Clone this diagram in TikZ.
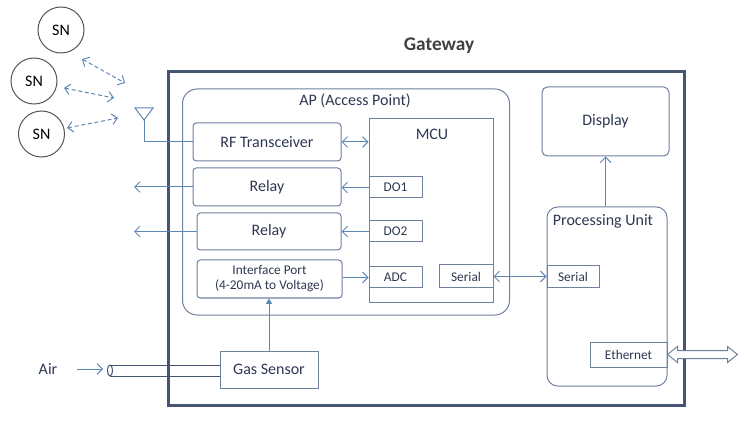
\documentclass[tikz,border=0pt]{standalone}
\usepackage{fontspec}
\setmainfont{Carlito}
\usetikzlibrary{arrows.meta}
\definecolor{framecol}{RGB}{70,85,115}
\definecolor{boxcol}{RGB}{110,128,158}
\definecolor{arrcol}{RGB}{95,135,180}
\definecolor{txtcol}{RGB}{45,55,80}
\definecolor{titlecol}{RGB}{64,64,64}
\definecolor{sncol}{RGB}{85,85,85}

\tikzset{
  blockbox/.style={draw=boxcol,line width=0.75pt,rounded corners=2.5pt,inner sep=0pt},
  portbox/.style={draw=boxcol,line width=0.75pt,inner sep=0pt,font=\fontsize{10}{12}\selectfont},
  snnode/.style={draw=sncol,line width=0.75pt,circle,minimum size=34.5pt,inner sep=0pt,text=black},
  linkline/.style={draw=arrcol,line width=0.75pt},
  arrowline/.style={linkline,-{Straight Barb[length=4pt,width=8pt]}},
  dblarrow/.style={linkline,{Straight Barb[length=4pt,width=8pt]}-{Straight Barb[length=4pt,width=8pt]}},
  radiolink/.style={dblarrow,dash pattern=on 3pt off 2pt}
}

\begin{document}
\begin{tikzpicture}[x=0.75pt,y=-0.75pt,every node/.style={text=txtcol,font=\fontsize{12}{14}\selectfont}]
\useasboundingbox (0,0) rectangle (744,428);

\node[font=\bfseries\fontsize{14.5}{16}\selectfont,text=titlecol] (title) at (439,46) {Gateway};
\node[draw=framecol,line width=2.25pt,minimum width=387pt,minimum height=249.75pt,inner sep=0pt] (gateway) at (426,238.5) {};

\node[snnode] (sn1) at (61,30) {SN};
\node[snnode] (sn2) at (34,81) {SN};
\node[snnode] (sn3) at (41.5,134) {SN};

\coordinate (ra1) at (82,59);  \coordinate (rb1) at (125,83);
\coordinate (ra2) at (64,88);  \coordinate (rb2) at (114,98);
\coordinate (ra3) at (67,128); \coordinate (rb3) at (118,118);
\draw[radiolink] (ra1) -- (rb1);
\draw[radiolink] (ra2) -- (rb2);
\draw[radiolink] (ra3) -- (rb3);

\node[blockbox,rounded corners=11pt,minimum width=245.25pt,minimum height=169.5pt] (ap) at (346,202) {};
\node (aptitle) at (355,101) {AP (Access Point)};

\node[blockbox,minimum width=111pt,minimum height=28.5pt] (rf) at (267,142) {RF Transceiver};
\node[blockbox,minimum width=111pt,minimum height=28.5pt] (relay1) at (267,187) {Relay};
\node[blockbox,minimum width=108pt,minimum height=27.75pt] (relay2) at (269,231.5) {Relay};
\node[blockbox,minimum width=108.75pt,minimum height=28.5pt,align=center,font=\fontsize{10}{11.25}\selectfont] (ifport) at (269.5,279) {Interface Port\\(4-20mA to Voltage)};

\node[draw=boxcol,line width=0.75pt,minimum width=93pt,minimum height=137.25pt,inner sep=0pt] (mcu) at (431,210.5) {};
\node (mcutitle) at (432,134) {MCU};
\node[portbox,minimum width=39.75pt,minimum height=15.75pt] (do1) at (395.5,187.5) {DO1};
\node[portbox,minimum width=39.75pt,minimum height=15.75pt] (do2) at (395.5,231.5) {DO2};
\node[portbox,minimum width=39.75pt,minimum height=15.75pt] (adc) at (395.5,277.5) {ADC};
\node[portbox,minimum width=40.5pt,minimum height=17.25pt] (serialm) at (466,276.5) {Serial};

\node[blockbox,rounded corners=4pt,minimum width=95.25pt,minimum height=51.75pt] (display) at (605.5,121.5) {Display};
\node[blockbox,rounded corners=8pt,minimum width=90pt,minimum height=134.25pt] (pu) at (607,296.5) {};
\node (putitle) at (603,221) {Processing Unit};
\node[portbox,minimum width=39pt,minimum height=16.5pt] (serialp) at (573,277) {Serial};
\node[portbox,minimum width=57.75pt,minimum height=18.75pt] (eth) at (628.5,354.5) {Ethernet};

\node[draw=boxcol,line width=0.75pt,minimum width=73.5pt,minimum height=27.75pt,inner sep=0pt] (gas) at (269,369.5) {Gas Sensor};
\node (air) at (48,369) {Air};

\coordinate (ant) at (144,120);
\draw[linkline] (ant) -- ++(-9,-12) -- ++(18,0) -- cycle;
\draw[linkline] (ant) |- (rf.west);

\draw[dblarrow] (rf.east) -- (rf.east -| mcu.west);
\draw[arrowline] (do1.west) -- (do1.west -| relay1.east);
\draw[arrowline] (do2.west) -- (do2.west -| relay2.east);
\draw[arrowline] (adc.west -| ifport.east) -- (adc.west);
\draw[dblarrow] (serialm.east) -- (serialm.east -| serialp.west);
\draw[arrowline] (display.south |- pu.north) -- (display.south);
\draw[linkline,-{Triangle[length=4pt,width=4.5pt]}] (gas.north) -- (gas.north |- ifport.south);

\coordinate (out1) at (134,187);
\coordinate (out2) at (134,231.5);
\draw[arrowline] (relay1.west) -- (out1);
\draw[arrowline] (relay2.west) -- (out2);

\draw[framecol,line width=0.75pt] (gas.west |- 0,365) -- (110,365);
\draw[framecol,line width=0.75pt] (gas.west |- 0,376) -- (110,376);
\draw[framecol,line width=0.75pt] (110,370.5) ellipse (1.9pt and 4.1pt);
\coordinate (tubein) at (103,369);
\draw[arrowline,shorten <=11.5pt] (air) -- (tubein);

\draw[boxcol,line width=0.75pt,fill=white] (eth.east) -- ++(10,-8) -- ++(0,4) -- ++(50,0) -- ++(0,-4) -- ++(10,8)
  -- ++(-10,8) -- ++(0,-4) -- ++(-50,0) -- ++(0,4) -- cycle;
\end{tikzpicture}
\end{document}
